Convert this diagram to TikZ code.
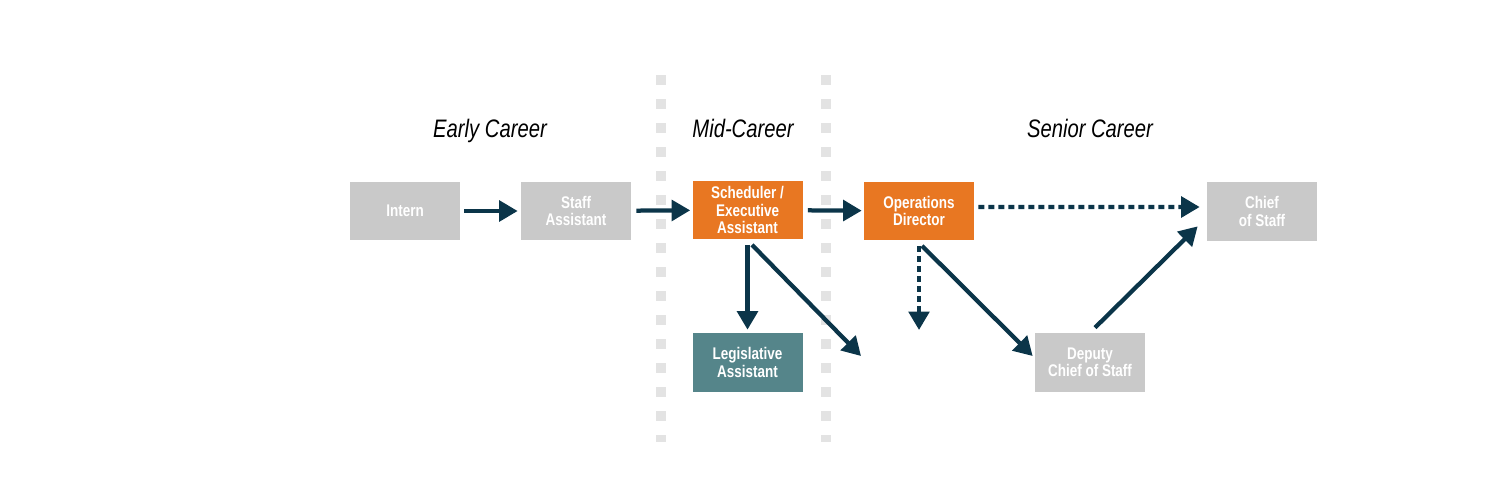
\documentclass[tikz,border=0pt]{standalone}
\usepackage{fontspec}
\usepackage{tikz}
\usetikzlibrary{arrows.meta}
\usepackage{xcolor}
\newfontfamily\condfont[FakeStretch=0.8]{Liberation Sans}
\definecolor{boxgray}{HTML}{C9C9C9}
\definecolor{boxorange}{HTML}{E87722}
\definecolor{boxteal}{HTML}{55858A}
\definecolor{arrownavy}{HTML}{0B3549}
\definecolor{sepgray}{HTML}{E3E3E3}

\begin{document}
\begin{tikzpicture}[x=0.02cm,y=-0.02cm]
					\tikzstyle{stage} = [rectangle,minimum width=2.2cm,minimum height=1.18cm,inner sep=1pt,align=center,text=white,font=\condfont\bfseries\fontsize{9.6}{9.8}\selectfont]
					\tikzstyle{heading} = [anchor=base,font=\condfont\itshape\fontsize{14.4}{16}\selectfont]
					\tikzstyle{move} = [-{Triangle[length=0.37cm,width=0.41cm]},draw=arrownavy,line width=0.085cm]
					\tikzstyle{maybe} = [move,dash pattern=on 0.12cm off 0.08cm]
					\tikzstyle{divider} = [draw=sepgray,line width=0.21cm,dash pattern=on 0.21cm off 0.27cm]
					\useasboundingbox (0,0) rectangle (1500,500);
					\draw[divider] (661,75) -- (661,442);
					\draw[divider] (826,75) -- (826,442);
					\node[heading] (early) at (490,137) {Early Career};
					\node[heading] (mid) at (743,137) {Mid-Career};
					\node[heading] (senior) at (1090,137) {Senior Career};
					\node[stage,fill=boxgray] (intern) at (405,211) {Intern};
					\node[stage,fill=boxgray] (staff) at (576,211) {Staff\\Assistant};
					\node[stage,fill=boxorange] (sched) at (747.5,210) {Scheduler /\\Executive\\Assistant};
					\node[stage,fill=boxorange] (ops) at (919,211) {Operations\\Director};
					\node[stage,fill=boxgray] (chief) at (1262,211.5) {Chief\\of Staff};
					\node[stage,fill=boxteal] (legis) at (747.5,362.5) {Legislative\\Assistant};
					\node[stage,fill=boxgray] (deputy) at (1090,362.5) {Deputy\\Chief of Staff};
					\coordinate (sched-out) at (861,356);
					\coordinate (ops-out) at (919,330);
					\draw[move,shorten <=0.08cm,shorten >=0.06cm] (intern) -- (staff);
					\draw[move,shorten <=0.1cm,shorten >=0.04cm] (staff) -- (sched);
					\draw[move,shorten <=0.1cm,shorten >=0.04cm] (sched) -- (ops);
					\draw[move,shorten <=0.1cm,shorten >=0.06cm] (sched) -- (legis);
					\draw[move] ([shift={(0.09cm,-0.1cm)}]sched.south) -- (sched-out);
					\draw[maybe] ([yshift=-0.1cm]ops.south) -- (ops-out);
					\draw[move] ([shift={(0.06cm,-0.1cm)}]ops.south) -- ([shift={(-0.04cm,0.13cm)}]deputy.west);
					\draw[maybe] ([shift={(0.08cm,0.08cm)}]ops.east) -- ([shift={(-0.14cm,0.09cm)}]chief.west);
					\draw[move] ([shift={(0.1cm,0.1cm)}]deputy.north) -- ([shift={(-0.18cm,0.3cm)}]chief.south west);
					\end{tikzpicture}
\end{document}
